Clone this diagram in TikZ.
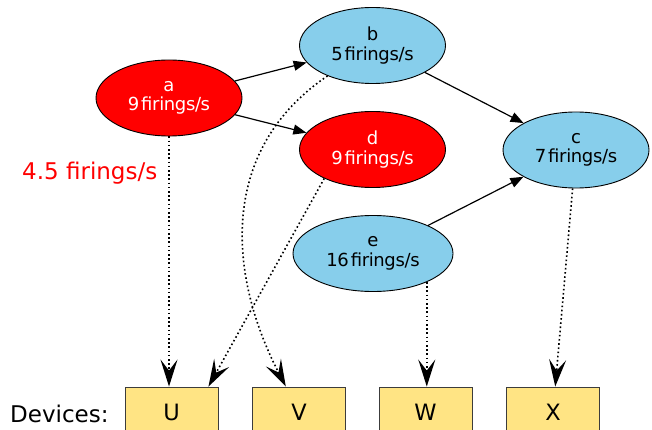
\documentclass[tikz,border=0pt]{standalone}
\usepackage{fontspec}
\setmainfont{DejaVu Sans}
\newfontfamily\tightfont[LetterSpace=-2,WordSpace=0.35]{DejaVu Sans}
\usetikzlibrary{shapes.geometric,arrows.meta,calc}
\definecolor{skyfill}{RGB}{135,206,235}
\definecolor{devfill}{RGB}{255,228,132}
\definecolor{devedge}{RGB}{60,60,60}
\tikzset{
  actor/.style={ellipse, draw=black, line width=0.9pt, inner sep=0pt,
    minimum width=146pt, minimum height=76pt, align=center,
    font=\tightfont\fontsize{18}{19.5}\selectfont},
  hotactor/.style={actor, fill=red, text=white},
  coolactor/.style={actor, fill=skyfill, text=black},
  device/.style={rectangle, draw=devedge, line width=0.9pt, fill=devfill,
    minimum width=93pt, minimum height=50pt, inner sep=0pt,
    font=\fontsize{22.5}{26}\selectfont},
  flow/.style={line width=1.2pt, -{Triangle[length=13pt,width=10pt]}},
  mapping/.style={line width=1.6pt, dash pattern=on 1.6pt off 2.6pt,
    -{Stealth[length=27pt,width=17pt,inset=11pt]}},
  caption/.style={anchor=base west, inner sep=0pt,
    font=\fontsize{23}{26}\selectfont}
}
\begin{document}
\begin{tikzpicture}[x=1pt,y=-1pt]
  \clip (0,0) rectangle (652,430);

  % actors
  \node[hotactor]  (a) at (169,98)    {a\\9 firings/s};
  \node[coolactor] (b) at (372.5,45.5) {b\\5 firings/s};
  \node[hotactor]  (d) at (372.5,149.5) {d\\9 firings/s};
  \node[coolactor] (c) at (576,150)   {c\\7 firings/s};
  \node[coolactor, minimum width=160pt] (e) at (373,253.5) {e\\16 firings/s};

  % devices
  \node[device] (U) at (171.5,412) {U};
  \node[device] (V) at (299,412)   {V};
  \node[device] (W) at (425.5,412) {W};
  \node[device] (X) at (553,412)   {X};

  \node[caption] (devlabel) at (10,422) {Devices:};
  \node[caption, text=red] (ratelabel) at (22,179.5) {4.5 firings/s};

  % data flow between actors
  \draw[flow] (a) -- (b);
  \draw[flow] (a) -- (d);
  \draw[flow] (b) -- (c);
  \draw[flow] (e) -- (c);

  % actor-to-device mapping
  \draw[mapping] (a.south) -- (a.south |- U.north);
  \draw[mapping] (d.211) -- ([xshift=-10pt]U.north east);
  \draw[mapping] (b) .. controls (218,150) and (228,275) .. (V);
  \draw[mapping] (e.-28) -- (e.-28 |- W.north);
  \draw[mapping] (c) -- (X);
\end{tikzpicture}
\end{document}
